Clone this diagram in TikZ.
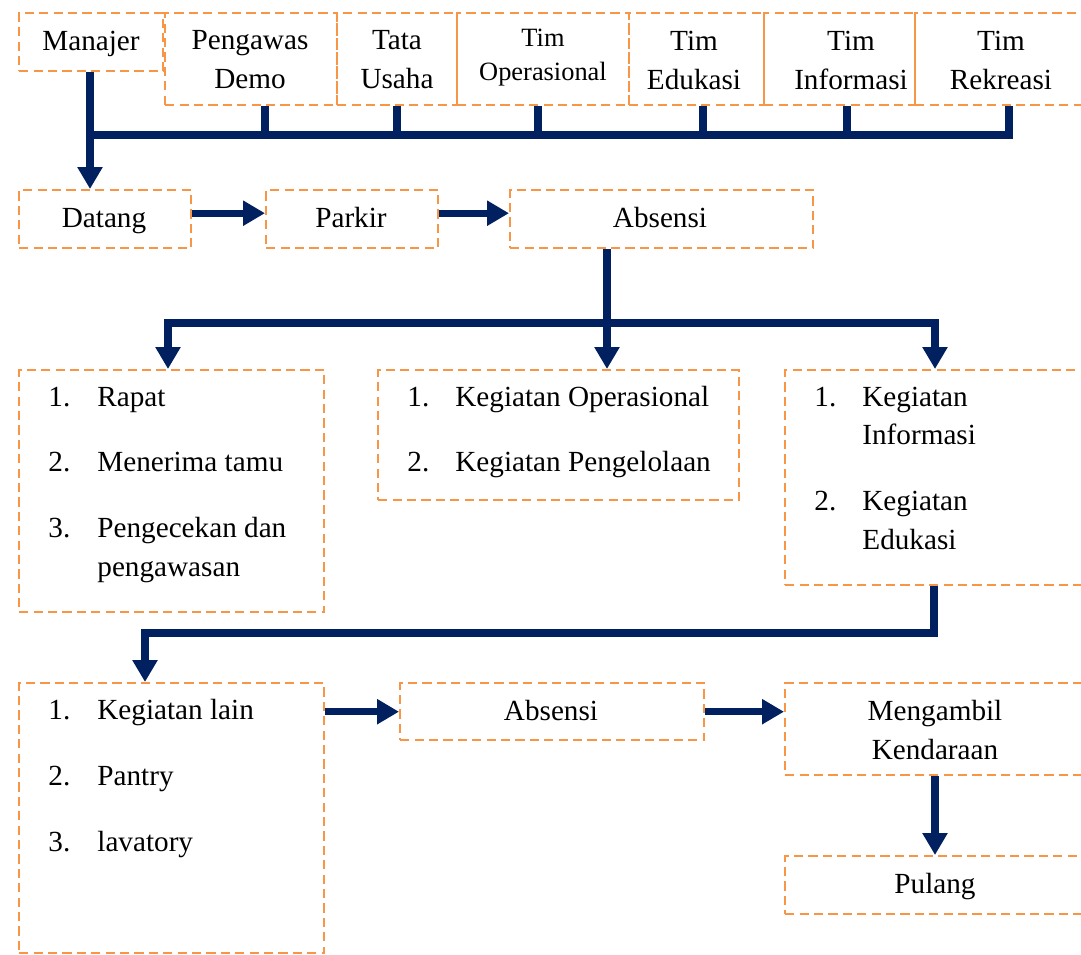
\documentclass[tikz,border=0pt]{standalone}
\usepackage{fontspec}
\setmainfont{Liberation Serif}
\usetikzlibrary{arrows.meta,calc}
\definecolor{navy}{HTML}{002060}
\definecolor{orng}{HTML}{F79646}
\begin{document}
\begin{tikzpicture}[x=0.5pt,y=-0.5pt,
 box/.style={draw=orng,line width=1.2pt,dash pattern=on 4.6pt off 2.6pt,rectangle,inner sep=0pt,anchor=north west},
 lbl/.style={font=\fontsize{14.6}{19.5}\selectfont,align=center,inner sep=0pt},
 one/.style={font=\fontsize{14.6}{19.5}\selectfont,inner sep=0pt,text height=10pt,text depth=3pt},
 sml/.style={font=\fontsize{13.2}{17}\selectfont,align=center,inner sep=0pt},
 item/.style={font=\fontsize{14.6}{19.5}\selectfont,anchor=west,inner sep=0pt,text height=10pt,text depth=3pt},
 conn/.style={draw=navy,line width=3.6pt,line join=miter},
 arr/.style={conn,-{Triangle[width=12pt,length=11pt]}},
]
\useasboundingbox (0,0) rectangle (1081,954);
\clip (0,0) rectangle (1081,954);
\fill[white] (0,0) rectangle (1081,954);

% top row boxes
\node[box,minimum width=72pt,minimum height=29pt] (man) at (18,12) {};
\node[box,minimum width=86pt,minimum height=46pt] (pd) at (164,12) {};
\node[box,minimum width=60pt,minimum height=46pt] (tu) at (336,12) {};
\node[box,minimum width=86pt,minimum height=46pt] (to) at (456,12) {};
\node[box,minimum width=67.5pt,minimum height=46pt] (te) at (628,12) {};
\node[box,minimum width=75.5pt,minimum height=46pt] (ti) at (763,12) {};
\node[box,minimum width=100pt,minimum height=46pt] (tr) at (914,12) {};

\node[one] (man-t) at (91,43) {Manajer};
\node[lbl] (pd-t) at (250,60) {Pengawas\\Demo};
\node[lbl] (tu-t) at (397,60) {Tata\\Usaha};
\node[sml] (to-t) at (543,58) {Tim\\Operasional};
\node[lbl] (te-t) at (694,60) {Tim\\Edukasi};
\node[lbl] (ti-t) at (851,60) {Tim\\Informasi};
\node[lbl] (tr-t) at (1001,60) {Tim\\Rekreasi};

% second row
\node[box,minimum width=86pt,minimum height=29pt] (dat) at (18,189) {};
\node[box,minimum width=86pt,minimum height=29pt] (par) at (265,189) {};
\node[box,minimum width=151.5pt,minimum height=29pt] (abs) at (509,189) {};
\node[one] (dat-t) at (104,220) {Datang};
\node[one] (par-t) at (351,220) {Parkir};
\node[one] (abs-t) at (660,220) {Absensi};

% third row
\node[box,minimum width=152.5pt,minimum height=121pt] (k1) at (18,369) {};
\node[box,minimum width=180.5pt,minimum height=65pt] (k2) at (377,369) {};
\node[box,minimum width=152pt,minimum height=107.5pt] (k3) at (784,369) {};

\node[item] (k1a) at (48,399) {\makebox[24.5pt][l]{1.}Rapat};
\node[item] (k1b) at (48,464) {\makebox[24.5pt][l]{2.}Menerima tamu};
\node[item] (k1c) at (48,530) {\makebox[24.5pt][l]{3.}Pengecekan dan};
\node[item] (k1d) at (97,569) {pengawasan};

\node[item] (k2a) at (407,399) {\makebox[24pt][l]{1.}Kegiatan Operasional};
\node[item] (k2b) at (407,464) {\makebox[24pt][l]{2.}Kegiatan Pengelolaan};

\node[item] (k3a) at (814,399) {\makebox[24pt][l]{1.}Kegiatan};
\node[item] (k3b) at (862,437) {Informasi};
\node[item] (k3c) at (814,503) {\makebox[24pt][l]{2.}Kegiatan};
\node[item] (k3d) at (862,542) {Edukasi};

% fourth row
\node[box,minimum width=152.5pt,minimum height=135pt] (l1) at (18,682) {};
\node[box,minimum width=152pt,minimum height=28.5pt] (ab2) at (399,682) {};
\node[box,minimum width=152pt,minimum height=46pt] (mk) at (784,682) {};
\node[box,minimum width=152pt,minimum height=29pt] (pl) at (784,855) {};

\node[item] (l1a) at (48,712) {\makebox[24.5pt][l]{1.}Kegiatan lain};
\node[item] (l1b) at (48,778) {\makebox[24.5pt][l]{2.}Pantry};
\node[item] (l1c) at (48,844) {\makebox[24.5pt][l]{3.}lavatory};

\node[one] (ab2-t) at (551,713) {Absensi};
\node[lbl] (mk-t) at (935,730) {Mengambil\\Kendaraan};
\node[one] (pl-t) at (935,886) {Pulang};

% connectors: top bus
\coordinate (m0) at (90,135);
\coordinate (t1) at (265,135);
\coordinate (t2) at (397,135);
\coordinate (t3) at (538,135);
\coordinate (t4) at (703,135);
\coordinate (t5) at (847,135);
\coordinate (t6) at (1009,135);
\draw[conn] (m0) -- (t6) -- (t6 |- tr.south);
\draw[conn] (t1 |- pd.south) -- (t1);
\draw[conn] (t2 |- tu.south) -- (t2);
\draw[conn] (t3 |- to.south) -- (t3);
\draw[conn] (t4 |- te.south) -- (t4);
\draw[conn] (t5 |- ti.south) -- (t5);
\draw[arr] (man.south -| m0) -- (m0 |- dat.north);

% row 2 arrows
\draw[arr] ([yshift=3pt]dat.east) -- ([yshift=3pt]par.west);
\draw[arr] ([yshift=3pt]par.east) -- ([yshift=3pt]abs.west);

% absensi to three boxes
\coordinate (j) at (607,323);
\coordinate (bl) at (168,323);
\coordinate (br) at (935,323);
\draw[arr] (j) -- (bl) -- (bl |- k1.north);
\draw[arr] (j) -- (br) -- (br |- k3.north);
\draw[arr] (j |- abs.south) -- (j |- k2.north);

% k3 to l1
\coordinate (c1) at (934,633);
\coordinate (c2) at (145,633);
\draw[arr] (c1 |- k3.south) -- (c1) -- (c2) -- (c2 |- l1.north);

% bottom row arrows
\draw[arr] (l1.east |- ab2.west) -- (ab2.west);
\draw[arr] (ab2.east) -- (ab2.east -| mk.west);
\coordinate (c3) at (935,800);
\draw[arr] (c3 |- mk.south) -- (c3 |- pl.north);
\end{tikzpicture}
\end{document}
